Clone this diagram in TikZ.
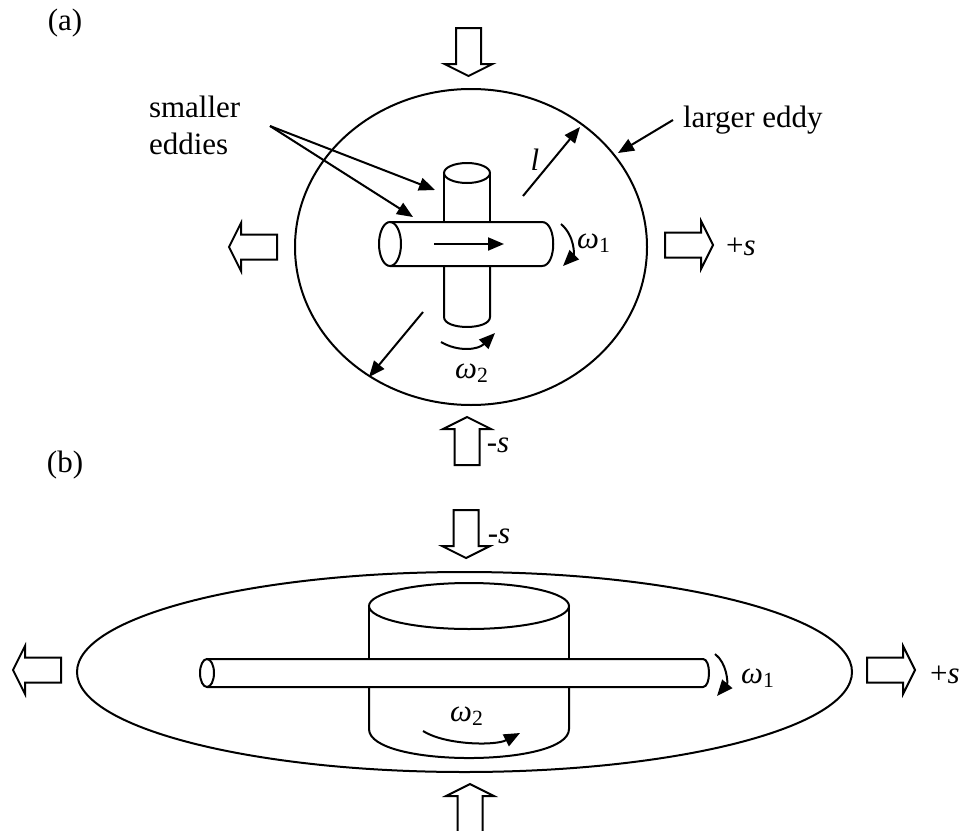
\documentclass[tikz,border=0pt]{standalone}
\usepackage{fontspec}
\setmainfont{Liberation Serif}
\usetikzlibrary{arrows.meta}
\newcommand\omegasub[1]{{\itshape ω}\textsubscript{#1}}
\begin{document}
\begin{tikzpicture}[x=0.5pt,y=-0.5pt,
  line width=1pt,
  ptr/.style={-{Triangle[length=8pt,width=6.5pt]}},
  lbl/.style={inner sep=0pt, font=\fontsize{15.5}{18.5}\selectfont},
  blk/.style={draw, line width=1pt, fill=white, line join=miter},
  blockarrow/.pic={\path[blk] (0,0) -- (-12,24) -- (-12,12.5) -- (-48,12.5)
      -- (-48,-12.5) -- (-12,-12.5) -- (-12,-24) -- cycle;}
]
\useasboundingbox (0,0) rectangle (969,830);

% ---------------- (a) round eddy ----------------
\node[lbl] (tagA) at (65,23) {(a)};

% larger eddy
\draw (471,247) ellipse [x radius=176, y radius=158];

% vertical small eddy (hidden behind the horizontal one in the middle)
\draw (467,173) ellipse [x radius=23, y radius=10];
\draw (444,173) -- (444,222) (490,173) -- (490,222);
\draw (444,266) -- (444,317) .. controls (444,330.3) and (490,330.3) .. (490,317) -- (490,266);

% horizontal small eddy
\draw (390,244) ellipse [x radius=11, y radius=22];
\draw (390,222) -- (542,222) .. controls (557,222) and (557,266) .. (542,266) -- (390,266);

% axial arrow inside the horizontal eddy
\coordinate (axA) at (434,244);
\coordinate (axB) at (504,244);
\draw[ptr] (axA) -- (axB);

% rotation arrows
\coordinate (w1s) at (561,224);
\coordinate (w1e) at (563,266);
\draw[ptr] (w1s) .. controls (575,236) and (574,255) .. (w1e);
\node[lbl] (w1a) at (594,243) {\omegasub{1}};

\coordinate (w2s) at (441,342);
\coordinate (w2e) at (495,333);
\draw[ptr] (w2s) .. controls (458,352) and (478,350) .. (w2e);
\node[lbl] (w2a) at (472,373) {\omegasub{2}};

% length scale l
\coordinate (lS) at (523,196);
\coordinate (lE) at (580,127);
\draw[ptr] (lS) -- (lE);
\node[lbl] (lab) at (535,160) {\itshape l};
\coordinate (rS) at (423,312);
\coordinate (rE) at (369,377);
\draw[ptr] (rS) -- (rE);

% labels with pointers
\node[lbl, align=left, anchor=west] (small) at (148,125) {smaller\\eddies};
\coordinate (smS) at (270,126);
\coordinate (smV) at (435,190);
\coordinate (smH) at (413,217);
\draw[ptr] (smS) -- (smV);
\draw[ptr] (smS) -- (smH);

\node[lbl, anchor=west] (large) at (682,120) {larger eddy};
\coordinate (lgS) at (673,120);
\coordinate (lgE) at (618,153);
\draw[ptr] (lgS) -- (lgE);

% strain arrows
\pic[rotate=-90] at (468.5,76) {blockarrow};
\pic[rotate=180] at (229,247) {blockarrow};
\pic at (713,245) {blockarrow};
\node[lbl] (spA) at (741,247) {+\textit{s}};
\pic[rotate=90] at (467,417) {blockarrow};
\node[lbl] (smA) at (498,445) {-\textit{s}};

% ---------------- (b) flattened eddy ----------------
\node[lbl] (tagB) at (65,465) {(b)};

\draw (464.5,672) ellipse [x radius=387.5, y radius=100];

% wide vertical eddy
\draw (469,606) ellipse [x radius=100, y radius=23];
\draw (369,606) -- (369,659) (569,606) -- (569,659);
\draw (369,687) -- (369,729) .. controls (369,767.7) and (569,767.7) .. (569,729) -- (569,687);

% stretched horizontal eddy
\draw (207,673) ellipse [x radius=7, y radius=14];
\draw (207,659) -- (703,659) .. controls (711,659) and (711,687) .. (703,687) -- (207,687);

% rotation arrows
\coordinate (v1s) at (715,654);
\coordinate (v1e) at (717,696);
\draw[ptr] (v1s) .. controls (727,663) and (728,683) .. (v1e);
\node[lbl] (w1b) at (758,678) {\omegasub{1}};

\coordinate (v2s) at (423,731);
\coordinate (v2e) at (520,733);
\draw[ptr] (v2s) .. controls (445,745) and (495,746) .. (v2e);
\node[lbl] (w2b) at (467,716) {\omegasub{2}};

% strain arrows
\pic[rotate=-90] at (466,558) {blockarrow};
\node[lbl] (smB) at (499,536) {-\textit{s}};
\pic[rotate=180] at (13,670) {blockarrow};
\pic at (915,670) {blockarrow};
\node[lbl] (spB) at (945,675) {+\textit{s}};
\pic[rotate=90] at (470,784) {blockarrow};
\end{tikzpicture}
\end{document}
